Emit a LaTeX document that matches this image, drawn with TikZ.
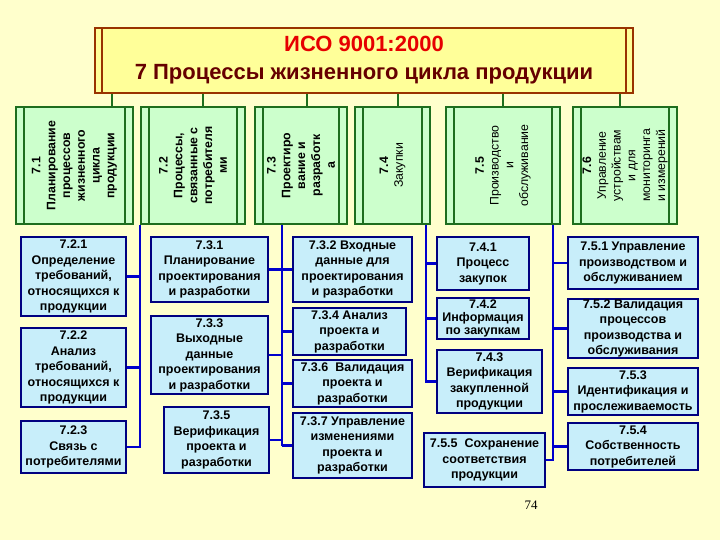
\documentclass[tikz,border=0pt]{standalone}
\usepackage{fontspec}
\setmainfont{Liberation Sans}
\newfontfamily\pagefont{Liberation Serif}
\usetikzlibrary{positioning,calc}
\definecolor{paper}{RGB}{255,255,204}
\definecolor{lemon}{RGB}{255,255,153}
\definecolor{rust}{RGB}{153,51,0}
\definecolor{isored}{RGB}{230,0,0}
\definecolor{maroon}{RGB}{102,0,0}
\definecolor{mint}{RGB}{204,255,204}
\definecolor{leaf}{RGB}{30,110,30}
\definecolor{ice}{RGB}{200,238,250}
\definecolor{navy}{RGB}{0,0,128}
\definecolor{wire}{RGB}{0,0,204}
\tikzset{
  isobox/.style={draw=rust,line width=2pt,fill=lemon,align=center,inner sep=0pt,
    font=\bfseries\fontsize{22}{28}\selectfont,
    path picture={\draw[rust,line width=1.5pt]
      ([xshift=7pt]path picture bounding box.north west) -- ([xshift=7pt]path picture bounding box.south west)
      ([xshift=-7pt]path picture bounding box.north east) -- ([xshift=-7pt]path picture bounding box.south east);}},
  head/.style={draw=leaf,line width=2pt,fill=mint,inner sep=0pt,minimum height=117pt,
    path picture={\draw[leaf,line width=2pt]
      ([xshift=8pt]path picture bounding box.north west) -- ([xshift=8pt]path picture bounding box.south west)
      ([xshift=-8pt]path picture bounding box.north east) -- ([xshift=-8pt]path picture bounding box.south east);}},
  headtxt/.style={rotate=90,align=center,inner sep=0pt,font=\fontsize{12.3}{14.8}\selectfont},
  clause/.style={draw=navy,line width=2.4pt,fill=ice,align=center,inner sep=0pt,
    font=\bfseries\fontsize{12.5}{15.5}\selectfont},
  tight/.style={font=\bfseries\fontsize{12.5}{13.2}\selectfont},
  bus/.style={draw=wire,line width=2.4pt},
  stem/.style={draw=leaf,line width=2pt},
}
\begin{document}
\begin{tikzpicture}[x=1pt,y=-1pt]
  \fill[paper] (0,0) rectangle (720,540);
  \useasboundingbox (0,0) rectangle (720,540);
  % title
  \node[isobox,minimum width=538pt,minimum height=65pt] (iso) at (364,60.5)
    {\textcolor{isored}{ИСО 9001:2000}\\\textcolor{maroon}{7 Процессы жизненного цикла продукции}};
  % clauses 7.1 ... 7.6
  \node[head,minimum width=117pt] (p71) at (74.5,165.5) {};
  \node[head,minimum width=104pt] (p72) at (193,165.5) {};
  \node[head,minimum width=92pt] (p73) at (301,165.5) {};
  \node[head,minimum width=75pt] (p74) at (392.5,165.5) {};
  \node[head,minimum width=114pt] (p75) at (503,165.5) {};
  \node[head,minimum width=104pt] (p76) at (625,165.5) {};
  \node[headtxt] (t71) at (p71) {\bfseries 7.1\\\bfseries Планирование\\\bfseries процессов\\\bfseries жизненного\\\bfseries цикла\\\bfseries продукции};
  \node[headtxt] (t72) at (p72) {\bfseries 7.2\\\bfseries Процессы,\\\bfseries связанные с\\\bfseries потребителя\\\bfseries ми};
  \node[headtxt] (t73) at (p73) {\bfseries 7.3\\\bfseries Проектиро\\\bfseries вание и\\\bfseries разработк\\\bfseries а};
  \node[headtxt] (t74) at (p74) {\bfseries 7.4\\Закупки};
  \node[headtxt] (t75) at (p75) {\bfseries 7.5\\Производство\\и\\обслуживание};
  \node[headtxt] (t76) at (p76) {\bfseries 7.6\\Управление\\устройствам\\и для\\мониторинга\\и измерений};
  \foreach \h/\dx in {p71/37.5,p72/10,p73/6,p74/5.5,p75/0,p76/-5}
    {\draw[stem] ([xshift=\dx pt]\h.north) -- ([xshift=\dx pt]\h.north |- iso.south);}
  % sub-clauses
  \node[clause,minimum width=105pt,minimum height=79pt] (p721) at (73.5,276.5) {7.2.1\\Определение\\требований,\\относящихся к\\продукции};
  \node[clause,minimum width=105pt,minimum height=79pt] (p722) at (73.5,367.5) {7.2.2\\Анализ\\требований,\\относящихся к\\продукции};
  \node[clause,minimum width=105pt,minimum height=52pt] (p723) at (73.5,447) {7.2.3\\Связь с\\потребителями};
  \node[clause,minimum width=117pt,minimum height=65pt] (p731) at (209.5,269.5) {7.3.1\\Планирование\\проектирования\\и разработки};
  \node[clause,minimum width=117pt,minimum height=78pt] (p733) at (209.5,355) {7.3.3\\Выходные\\данные\\проектирования\\и разработки};
  \node[clause,minimum width=105pt,minimum height=66pt] (p735) at (216.5,440) {7.3.5\\Верификация\\проекта и\\разработки};
  \node[clause,minimum width=119pt,minimum height=65pt] (p732) at (352.5,269.5) {7.3.2 Входные\\данные для\\проектирования\\и разработки};
  \node[clause,minimum width=113pt,minimum height=47pt] (p734) at (349.5,331.5) {7.3.4 Анализ\\проекта и\\разработки};
  \node[clause,minimum width=119pt,minimum height=47pt] (p736) at (352.5,383.5) {7.3.6~~Валидация\\проекта и\\разработки};
  \node[clause,minimum width=119pt,minimum height=65pt] (p737) at (352.5,445.5) {7.3.7 Управление\\изменениями\\проекта и\\разработки};
  \node[clause,minimum width=92pt,minimum height=53pt] (p741) at (483,263.5) {7.4.1\\Процесс\\закупок};
  \node[clause,tight,minimum width=92pt,minimum height=41pt] (p742) at (483,318.5) {7.4.2\\Информация\\по закупкам};
  \node[clause,minimum width=105pt,minimum height=63pt] (p743) at (489.5,381.5) {7.4.3\\Верификация\\закупленной\\продукции};
  \node[clause,minimum width=121pt,minimum height=54pt] (p755) at (484.5,460) {7.5.5~~Сохранение\\соответствия\\продукции};
  \node[clause,minimum width=130pt,minimum height=52pt] (p751) at (633,263) {7.5.1 Управление\\производством и\\обслуживанием};
  \node[clause,minimum width=130pt,minimum height=59pt] (p752) at (633,328.5) {7.5.2 Валидация\\процессов\\производства и\\обслуживания};
  \node[clause,minimum width=130pt,minimum height=47pt] (p753) at (633,391.5) {7.5.3\\Идентификация и\\прослеживаемость};
  \node[clause,minimum width=130pt,minimum height=47pt] (p754) at (633,446.5) {7.5.4\\Собственность\\потребителей};
  % wiring
  \draw[bus] (p72.south west) |- (p723.east);
  \foreach \b in {p721,p722}{\draw[bus] (\b.east) -- (\b.east -| p72.south west);}
  \coordinate (j73) at ([xshift=-19pt]p73.south);
  \draw[bus] (j73) -- (j73 |- p737.east);
  \foreach \b in {p731,p733,p735}{\draw[bus] (\b.east) -- (\b.east -| j73);}
  \foreach \b in {p732,p734,p736,p737}{\draw[bus] (\b.west) -- (\b.west -| j73);}
  \coordinate (j74) at ([xshift=-5pt]p74.south east);
  \draw[bus] (j74) |- (p743.west);
  \foreach \b in {p741,p742}{\draw[bus] (\b.west) -- (\b.west -| j74);}
  \coordinate (j75) at ([xshift=-8pt]p75.south east);
  \draw[bus] (j75) |- (p755.east);
  \foreach \b in {p751,p752,p753,p754}{\draw[bus] (\b.west) -- (\b.west -| j75);}
  \node[font=\pagefont\fontsize{13}{15}\selectfont,inner sep=0pt] (pg) at (531,505) {74};
\end{tikzpicture}
\end{document}
